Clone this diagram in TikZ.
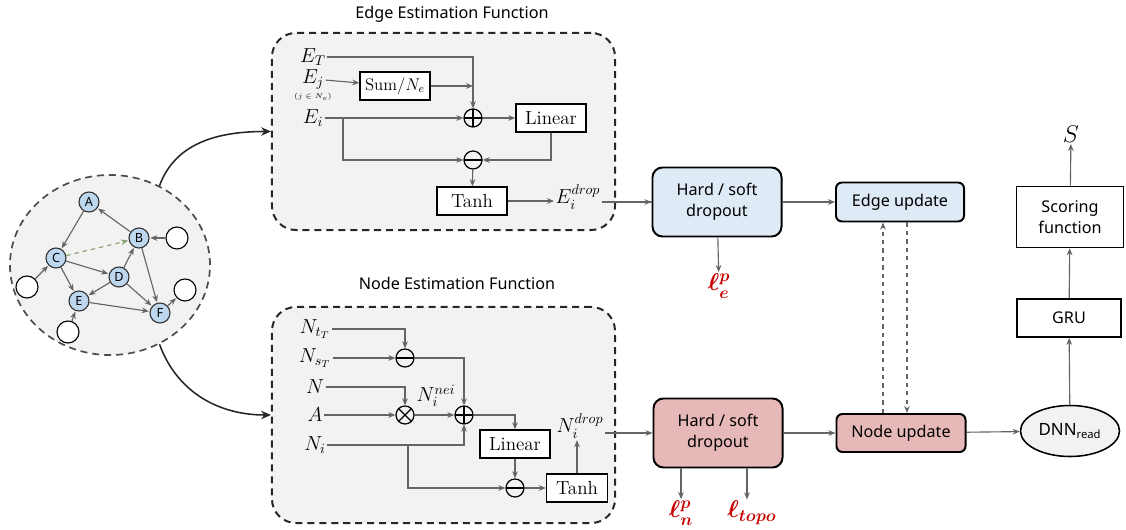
\documentclass[tikz,border=0pt]{standalone}
\usepackage{amsmath}
\usepackage{fontspec}
\setsansfont{Noto Sans}
\usepackage{tikz}
\usetikzlibrary{arrows.meta,shapes.geometric,positioning,calc}
\usepackage{xcolor}
\definecolor{linegray}{RGB}{100,100,100}
\definecolor{framegray}{RGB}{242,242,242}
\definecolor{dropblue}{RGB}{222,235,247}
\definecolor{droppink}{RGB}{230,184,183}
\definecolor{gnodeblue}{RGB}{189,215,238}
\definecolor{lossred}{RGB}{200,0,0}
\definecolor{hintgreen}{RGB}{130,160,110}

\begin{document}
\begin{tikzpicture}[x=0.025cm,y=-0.025cm,
  arr/.style={draw=linegray,line width=0.8pt,-{Stealth[length=5pt,width=4pt]}},
  plain/.style={draw=linegray,line width=0.8pt},
  bigarr/.style={draw=black!85,line width=1.1pt,-{Stealth[length=7pt,width=6pt]}},
  frame/.style={rectangle,draw=black!85,line width=1.4pt,dash pattern=on 5pt off 3.5pt,
                rounded corners=0.6cm,fill=framegray},
  title/.style={font=\sffamily\fontsize{11.5}{13}\selectfont},
  lbl/.style={font=\fontsize{14}{16}\selectfont,inner sep=1pt},
  fbox/.style={rectangle,draw=black,line width=1pt,fill=white,font=\fontsize{13.5}{15}\selectfont,
               minimum width=1.75cm,minimum height=0.7cm,inner sep=1pt},
  op/.style={circle,draw=black,line width=0.9pt,minimum size=0.45cm,inner sep=0pt},
  opplus/.style={op,path picture={\draw[line width=0.9pt]
      (path picture bounding box.north) -- (path picture bounding box.south)
      (path picture bounding box.west) -- (path picture bounding box.east);}},
  opminus/.style={op,path picture={\draw[line width=0.9pt]
      (path picture bounding box.west) -- (path picture bounding box.east);}},
  optimes/.style={op,path picture={\draw[line width=0.9pt]
      (path picture bounding box.north west) -- (path picture bounding box.south east)
      (path picture bounding box.north east) -- (path picture bounding box.south west);}},
  blk/.style={rectangle,draw=black,line width=1.4pt,align=center,
              font=\sffamily\fontsize{11.5}{15}\selectfont},
  loss/.style={text=lossred,font=\fontsize{17}{19}\selectfont,inner sep=1pt},
  gnode/.style={circle,draw=black!80,line width=0.8pt,fill=gnodeblue,minimum size=0.5cm,
                inner sep=0pt,font=\sffamily\small},
  gempty/.style={circle,draw=black,line width=0.8pt,fill=white,minimum size=0.55cm,inner sep=0pt},
  garr/.style={draw=linegray,line width=0.8pt,-{Stealth[length=5pt,width=4pt]},shorten >=0.5pt},
]
\useasboundingbox (0,0) rectangle (1126,530);

% input graph
\node[ellipse,draw=black!70,line width=1.2pt,dash pattern=on 5pt off 3.5pt,fill=framegray,
      minimum width=5cm,minimum height=4.5cm] (graph) at (110,265) {};
\node[gnode] (a) at (89,202) {A};
\node[gnode] (b) at (139,238) {B};
\node[gnode] (c) at (56,258) {C};
\node[gnode] (d) at (119,277) {D};
\node[gnode] (e) at (79,301) {E};
\node[gnode] (f) at (160,313) {F};
\node[gempty] (ob) at (177,238) {};
\node[gempty] (oc) at (27,287) {};
\node[gempty] (of) at (185,290) {};
\node[gempty] (oe) at (68,332) {};
\foreach \s/\t in {b/a,a/c,c/d,c/e,d/b,d/e,d/f,b/f,e/f,ob/b,oc/c,oe/e,f/of}{
  \draw[garr] (\s) -- (\t);
}
\draw[garr,draw=hintgreen,dashed] (c) -- (b);

% the two estimation frames
\node[frame,minimum width=8.575cm,minimum height=4.925cm] (ebox) at (443.5,131.5) {};
\node[frame,minimum width=8.575cm,minimum height=5.4cm] (nbox) at (443.5,415) {};
\node[title] (etitle) at (452,14) {Edge Estimation Function};
\node[title] (ntitle) at (457,283) {Node Estimation Function};
\draw[bigarr] (graph.58) to[out=70,in=180] (ebox.west);
\draw[bigarr] (graph.-58) to[out=-70,in=180] (nbox.west);

% Edge estimation function
\node[lbl] (et) at (313,57) {$E_T$};
\node[lbl] (ej) at (313,79) {$E_j$};
\node[font=\tiny,inner sep=0pt] (ejsub) at (313,97) {$(j\in N_e)$};
\node[lbl] (ei) at (313,118) {$E_i$};
\node[fbox,font=\large] (esum) at (395,86) {Sum/$N_e$};
\node[opplus] (eplus) at (473,118) {};
\node[fbox] (elin) at (551,118) {Linear};
\node[opminus] (eminus) at (473,160) {};
\node[fbox] (etanh) at (472,201) {Tanh};
\node[lbl] (edrop) at (578,197) {$E_i^{drop}$};
\coordinate (ebr) at (343,118);
\draw[arr] (et) -- (et -| eplus) -- (eplus);
\draw[arr] (ej) -- (esum);
\draw[arr] (esum) -- (esum -| eplus);
\draw[arr] (ei) -- (eplus);
\draw[arr] (eplus) -- (elin);
\draw[arr] (elin.south) -- (elin.south |- eminus) -- (eminus);
\draw[arr] (ebr) -- (ebr |- eminus) -- (eminus);
\draw[arr] (eminus) -- (etanh);
\draw[arr] (etanh) -- (edrop.west |- etanh);

% Node estimation function
\node[lbl] (ntt) at (315,329) {$N_{t_T}$};
\node[lbl] (nst) at (315,358) {$N_{s_T}$};
\node[lbl] (nn) at (315,387) {$N$};
\node[lbl] (na) at (315,415) {$A$};
\node[lbl] (ni) at (315,445) {$N_i$};
\node[opminus] (nmina) at (405,358) {};
\node[optimes] (ntimes) at (405,415) {};
\node[opplus] (nplus) at (464,415) {};
\node[lbl] (nnei) at (436,396) {$N_i^{nei}$};
\node[fbox] (nlin) at (515,444) {Linear};
\node[opminus] (nminb) at (515,488) {};
\node[fbox,minimum width=1.525cm] (ntanh) at (577,488) {Tanh};
\node[lbl] (ndrop) at (580,426) {$N_i^{drop}$};
\coordinate (nbr) at (408,445);
\draw[arr] (ntt) -- (ntt -| nmina) -- (nmina);
\draw[arr] (nst) -- (nmina);
\draw[arr] (nmina) -- (nmina -| nplus) -- (nplus);
\draw[arr] (nn) -- (nn -| ntimes) -- (ntimes);
\draw[arr] (na) -- (ntimes);
\draw[arr] (ntimes) -- (nplus);
\draw[arr] (ni) -- (ni -| nplus) -- (nplus);
\draw[arr] (nplus) -- (nplus -| nlin) -- (nlin);
\draw[arr] (nlin) -- (nminb);
\draw[arr] (nbr) -- (nbr |- nminb) -- (nminb);
\draw[arr] (nminb) -- (ntanh);
\draw[arr] (ntanh) -- (ntanh |- ndrop.south);

% dropout and update blocks
\node[blk,rounded corners=0.25cm,fill=dropblue,minimum width=3.225cm,minimum height=1.725cm]
  (ehs) at (717,202) {Hard / soft\\dropout};
\node[blk,rounded corners=0.25cm,fill=droppink,minimum width=3.225cm,minimum height=1.725cm]
  (nhs) at (718,433) {Hard / soft\\dropout};
\node[blk,rounded corners=0.15cm,fill=dropblue,minimum width=3.2cm,minimum height=0.975cm]
  (eup) at (900,202) {Edge update};
\node[blk,rounded corners=0.15cm,fill=droppink,minimum width=3.225cm,minimum height=0.95cm]
  (nup) at (901,433) {Node update};
\node[ellipse,draw=black,line width=1.1pt,fill=framegray,minimum width=2.475cm,
      minimum height=1.275cm,font=\sffamily\fontsize{12}{14}\selectfont,inner sep=1pt]
  (dnn) at (1070,431) {DNN\textsubscript{read}};
\node[blk,line width=1.1pt,minimum width=2.6cm,minimum height=0.95cm] (gru) at (1069,318) {GRU};
\node[blk,line width=1.1pt,minimum width=2.675cm,minimum height=1.525cm]
  (score) at (1070,217) {Scoring\\function};
\node[font=\LARGE,inner sep=1pt] (s) at (1071,134) {$S$};

\node[loss] (le) at (719,286) {$\boldsymbol{\ell_e^p}$};
\node[loss] (ln) at (681,513) {$\boldsymbol{\ell_n^p}$};
\node[loss] (lt) at (752,513) {$\boldsymbol{\ell_{topo}}$};

\draw[plain] (edrop.east |- ehs) -- (ehs.west);
\draw[arr] ($(ehs.west)+(-8,0)$) -- (ehs.west);
\draw[arr] (ndrop.east |- nhs) -- (nhs.west);
\draw[arr] (ehs) -- (le);
\draw[arr] (nhs.south -| ln) -- (ln);
\draw[arr] (nhs.south -| 747,0) -- (lt.north -| 747,0);
\draw[arr] (ehs) -- (eup);
\draw[arr] (nhs) -- (nup);
\draw[arr,dashed] ($(nup.north)+(-18,0)$) -- ($(eup.south)+(-17,0)$);
\draw[arr,dashed] ($(eup.south)+(7,0)$) -- ($(nup.north)+(6,0)$);
\draw[arr] (nup) -- (dnn);
\draw[arr] (dnn) -- (gru);
\draw[arr] (gru) -- (score);
\draw[arr] (score) -- (s);
\end{tikzpicture}
\end{document}
